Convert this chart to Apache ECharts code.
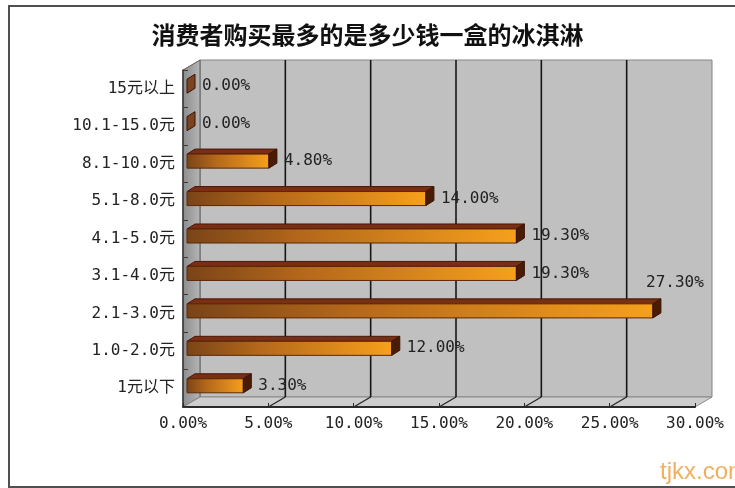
<!DOCTYPE html>
<html><head><meta charset="utf-8">
<script src="https://cdn.jsdelivr.net/npm/echarts@6/dist/echarts.min.js"></script>
<style>html,body{margin:0;padding:0;background:#fff}#c{width:735px;height:488px}</style>
</head><body><div id="c"></div>
<script>
const titleText = '消费者购买最多的是多少钱一盒的冰淇淋';
const categories = ['15元以上','10.1-15.0元','8.1-10.0元','5.1-8.0元','4.1-5.0元','3.1-4.0元','2.1-3.0元','1.0-2.0元','1元以下'];
const shares = [0, 0, 4.8, 14.0, 19.3, 19.3, 27.3, 12.0, 3.3];
const xTickValues = [0, 5, 10, 15, 20, 25, 30];
const xTickLabels = ['0.00%','5.00%','10.00%','15.00%','20.00%','25.00%','30.00%'];

const FONT = '"DejaVu Sans Mono","Noto Sans CJK SC",monospace';
const DX = 17, DY = 10;   // wall depth
const BX = 8, BY = 5;     // bar depth
const FX = 4, FY = 2.5;   // bar front offset

const chart = echarts.init(document.getElementById('c'), null, {renderer: 'canvas'});

function renderWalls(params, api) {
  const cs = params.coordSys;
  const L = cs.x, T = cs.y, R = cs.x + cs.width, B = cs.y + cs.height;
  const ch = [];
  ch.push({type: 'rect', shape: {x: L + DX, y: T - DY, width: cs.width, height: cs.height},
    style: {fill: '#c0c0c0', stroke: '#858585', lineWidth: 1}});
  ch.push({type: 'polygon', shape: {points: [[L, T], [L + DX, T - DY], [L + DX, B - DY], [L, B]]},
    style: {fill: new echarts.graphic.LinearGradient(0, 0, 1, 0, [{offset: 0, color: '#8c8c8c'}, {offset: 1, color: '#b6b6b6'}]),
      stroke: '#5a5a5a', lineWidth: 1}});
  ch.push({type: 'polygon', shape: {points: [[L, B], [L + DX, B - DY], [R + DX, B - DY], [R, B]]},
    style: {fill: '#cdcdcd', stroke: '#8a8a8a', lineWidth: 1}});
  xTickValues.forEach((t, k) => {
    if (k === 0 || k === xTickValues.length - 1) return;
    const x = api.coord([t, 0])[0];
    ch.push({type: 'line', shape: {x1: x + DX, y1: T - DY, x2: x + DX, y2: B - DY}, style: {stroke: '#161616', lineWidth: 1.6}});
    ch.push({type: 'line', shape: {x1: x + DX, y1: B - DY, x2: x, y2: B}, style: {stroke: '#222', lineWidth: 1.2}});
  });
  return {type: 'group', children: ch};
}

function renderBar(params, api) {
  const cs = params.coordSys;
  const v = api.value(0), i = api.value(1);
  const p0 = api.coord([0, i]), p1 = api.coord([v, i]);
  const h = api.size([0, 1])[1] * 0.375;
  const x0 = p0[0] + FX, x1 = p1[0] + FX, yc = p0[1] - FY;
  const yt = yc - h / 2, yb = yc + h / 2;
  const ch = [];
  if (x1 > x0) {
    ch.push({type: 'polygon', shape: {points: [[x0, yt], [x0 + BX, yt - BY], [x1 + BX, yt - BY], [x1, yt]]},
      style: {fill: '#7a2e14', stroke: '#4a1808', lineWidth: 1}});
    ch.push({type: 'rect', shape: {x: x0, y: yt, width: x1 - x0, height: h},
      style: {fill: new echarts.graphic.LinearGradient(0, 0, 1, 0, [
        {offset: 0, color: '#7a4418'}, {offset: 0.35, color: '#b4681a'}, {offset: 1, color: '#f6a01c'}]),
        stroke: '#5a2808', lineWidth: 1}});
  }
  ch.push({type: 'polygon', shape: {points: [[x1, yt], [x1 + BX, yt - BY], [x1 + BX, yb - BY], [x1, yb]]},
    style: {fill: x1 > x0 ? '#4a1c06' : '#7a4420', stroke: '#3a1404', lineWidth: 1}});
  const label = v.toFixed(2) + '%';
  let tx, ty, align;
  if (x1 + BX + 70 > cs.x + cs.width) { tx = x1 + 22; ty = yc - 28; align = 'center'; }
  else { tx = x1 + BX + 7; ty = yc; align = 'left'; }
  ch.push({type: 'text', style: {text: label, x: tx, y: ty, align: align, verticalAlign: 'middle',
    fill: '#222', fontSize: 16, fontFamily: FONT}});
  return {type: 'group', children: ch};
}

chart.setOption({
  animation: false,
  backgroundColor: '#fff',
  title: {text: titleText, left: 'center', top: 18,
    textStyle: {fontSize: 24, fontWeight: 'bold', color: '#111', fontFamily: '"Noto Sans CJK SC"'}},
  grid: {left: 183, top: 70, right: 40, bottom: 81, containLabel: false, outerBoundsMode: 'none'},
  xAxis: {type: 'value', min: 0, max: 30, interval: 5, z: 5,
    axisLine: {show: true, lineStyle: {color: '#2a2a2a', width: 2}},
    axisTick: {show: true, inside: true, length: 4, lineStyle: {color: '#2a2a2a'}},
    splitLine: {show: false},
    axisLabel: {margin: 9, color: '#222', fontSize: 16, fontFamily: FONT,
      formatter: v => xTickLabels[xTickValues.indexOf(v)]}},
  yAxis: {type: 'category', data: categories, inverse: true, z: 5,
    axisLine: {show: true, lineStyle: {color: '#3a3a3a', width: 1.5}},
    axisTick: {show: true, inside: true, length: 5, lineStyle: {color: '#3a3a3a'}},
    axisLabel: {margin: 8, color: '#222', fontSize: 16, fontFamily: FONT}},
  series: [
    {type: 'custom', name: 'walls', z: 1, silent: true, data: [[0, 0]], encode: {x: 0, y: 1}, renderItem: renderWalls},
    {type: 'custom', name: '比例', z: 2, data: shares.map((v, i) => [v, i]), encode: {x: 0, y: 1}, renderItem: renderBar}
  ],
  graphic: [
    {type: 'rect', left: 8, top: 5, z: 10, silent: true,
      shape: {width: 740, height: 481}, style: {fill: 'transparent', stroke: '#505050', lineWidth: 2}},
    {type: 'text', left: 660, top: 460, z: 10, silent: true,
      style: {text: 'tjkx.com', fill: '#f0b060', fontSize: 24, fontFamily: '"Liberation Sans", Arial'}}
  ]
});
</script>
</body></html>
